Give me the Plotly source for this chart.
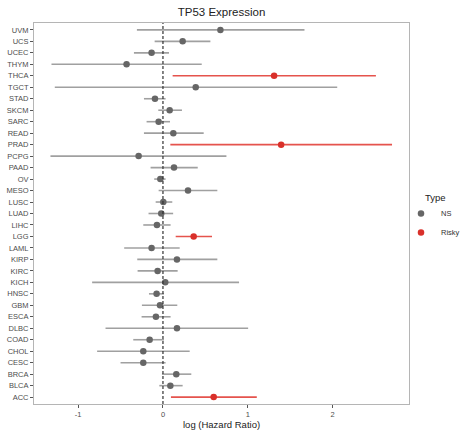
import plotly.graph_objects as go

cancers = ["UVM", "UCS", "UCEC", "THYM", "THCA", "TGCT", "STAD", "SKCM", "SARC", "READ",
           "PRAD", "PCPG", "PAAD", "OV", "MESO", "LUSC", "LUAD", "LIHC", "LGG", "LAML",
           "KIRP", "KIRC", "KICH", "HNSC", "GBM", "ESCA", "DLBC", "COAD", "CHOL", "CESC",
           "BRCA", "BLCA", "ACC"]
log_hr = [0.677, 0.232, -0.134, -0.429, 1.31, 0.386, -0.094, 0.079, -0.051, 0.122,
          1.393, -0.287, 0.130, -0.031, 0.295, 0.004, -0.02, -0.071, 0.362, -0.134,
          0.165, -0.063, 0.027, -0.075, -0.035, -0.083, 0.165, -0.157, -0.232, -0.232,
          0.157, 0.087, 0.598]
ci_low = [-0.307, -0.098, -0.342, -1.314, 0.114, -1.275, -0.224, -0.055, -0.193, -0.224,
          0.087, -1.326, -0.146, -0.103, -0.051, -0.086, -0.17, -0.232, 0.15, -0.457,
          -0.303, -0.299, -0.835, -0.165, -0.248, -0.252, -0.677, -0.35, -0.776, -0.5,
          -0.012, -0.043, 0.094]
ci_high = [1.668, 0.559, 0.071, 0.457, 2.51, 2.054, 0.031, 0.224, 0.083, 0.48,
           2.70, 0.748, 0.41, 0.031, 0.641, 0.11, 0.12, 0.09, 0.578, 0.197,
           0.641, 0.173, 0.897, 0.012, 0.169, 0.09, 1.004, 0.012, 0.315, 0.031,
           0.334, 0.232, 1.106]
types = ["NS", "NS", "NS", "NS", "Risky", "NS", "NS", "NS", "NS", "NS",
         "Risky", "NS", "NS", "NS", "NS", "NS", "NS", "NS", "Risky", "NS",
         "NS", "NS", "NS", "NS", "NS", "NS", "NS", "NS", "NS", "NS",
         "NS", "NS", "Risky"]
x_ticks = [-1, 0, 1, 2]

styles = {
    "NS": dict(point="#666666", line="#a0a0a0"),
    "Risky": dict(point="#d9302a", line="#e5534d"),
}

W, H = 460, 430
L, R, T, B = 34, 51, 23, 26
pw, ph = W - L - R, H - T - B

fig = go.Figure()
for t in ["NS", "Risky"]:
    idx = [i for i, v in enumerate(types) if v == t]
    xs = [log_hr[i] for i in idx]
    ys = [cancers[i] for i in idx]
    plus = [ci_high[i] - log_hr[i] for i in idx]
    minus = [log_hr[i] - ci_low[i] for i in idx]
    fig.add_trace(go.Scatter(
        x=xs, y=ys, mode="markers", name=t,
        marker=dict(color=styles[t]["point"], size=6.5),
        error_x=dict(type="data", array=plus, arrayminus=minus, symmetric=False,
                     color=styles[t]["line"], thickness=1.6, width=0),
    ))

fig.add_vline(x=0, line=dict(color="#333333", width=1.2, dash="3px,2px"))

fig.add_annotation(text="log (Hazard Ratio)", xref="paper", yref="paper",
                   x=0.5, y=-(424 - (H - B)) / ph, xanchor="center", yanchor="middle",
                   showarrow=False, font=dict(size=9.5, color="#222222"))
fig.add_annotation(text="Type", xref="paper", yref="paper",
                   x=(423 - L) / pw, y=((H - B) - 197) / ph, xanchor="left", yanchor="middle",
                   showarrow=False, font=dict(size=9.5, color="#222222"))

fig.update_layout(
    width=W, height=H,
    margin=dict(l=L, r=R, t=T, b=B, autoexpand=False),
    paper_bgcolor="white", plot_bgcolor="white",
    font=dict(family="Liberation Sans, Arial, sans-serif", color="#333333"),
    title=dict(text="TP53 Expression", x=0.5, xref="paper", xanchor="center",
               y=1 - 12 / H, yanchor="middle", font=dict(size=11.5, color="#222222")),
    xaxis=dict(range=[-1.52, 2.90], tickvals=x_ticks, ticktext=[str(v) for v in x_ticks],
               showgrid=False, zeroline=False, ticks="outside", ticklen=3, tickcolor="#555555",
               showline=True, mirror=True, linecolor="#b5b5b5", linewidth=1,
               tickfont=dict(size=7.5, color="#4d4d4d"), automargin=False),
    yaxis=dict(type="category", categoryorder="array", categoryarray=cancers[::-1],
               range=[-0.6, len(cancers) - 0.4],
               showgrid=False, zeroline=False, ticks="outside", ticklen=3, tickcolor="#555555",
               showline=True, mirror=True, linecolor="#b5b5b5", linewidth=1,
               tickfont=dict(size=7.5, color="#4d4d4d"), automargin=False),
    legend=dict(xref="container", yref="container",
                x=401 / W, xanchor="left", y=1 - 199 / H, yanchor="top",
                font=dict(size=7.5, color="#333333"), tracegroupgap=0,
                itemsizing="trace", itemwidth=30, bgcolor="rgba(0,0,0,0)"),
)

fig.write_html("out.html", config={"displayModeBar": False},
               post_script="document.body.style.margin='0';")
